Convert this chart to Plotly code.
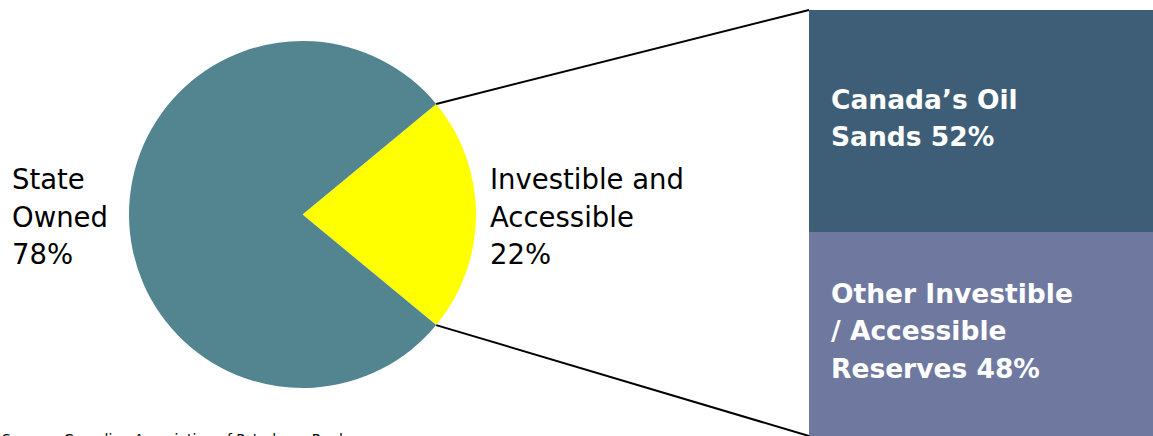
import math
import plotly.graph_objects as go

# ---------------- data ----------------
pie_names = ["Investible and Accessible", "State Owned"]
pie_values = [22, 78]
pie_label_lines = [["Investible and", "Accessible"], ["State", "Owned"]]

bar_names = ["Other Investible / Accessible Reserves", "Canada’s Oil Sands"]
bar_values = [48, 52]
bar_label_lines = [["Other Investible", "/ Accessible", "Reserves"], ["Canada’s Oil", "Sands"]]

source_text = "Source:\u00a0\u00a0Canadian Association of Petroleum Producers"

# ---------------- style ----------------
W, H = 1153, 436
pie_colors = ["#FFFF00", "#52858F"]
bar_colors = ["#6F79A0", "#3E5E78"]

cx, cy, r = 302.5, 214.5, 173.5          # pie centre / radius in px
bar_left, bar_top = 809, 10               # bar geometry in px

def px(x):
    return x / W

def py(y):
    return 1 - y / H

fig = go.Figure()

total = sum(pie_values)
half_angle = pie_values[0] / total * 180.0
fig.add_trace(go.Pie(
    values=pie_values, labels=pie_names,
    marker=dict(colors=pie_colors, line=dict(width=0)),
    sort=False, direction="clockwise", rotation=90 - half_angle,
    textinfo="none", hoverinfo="label+percent", showlegend=False,
    domain=dict(x=[px(cx - r), px(cx + r)], y=[py(cy + r), py(cy - r)]),
))

for i, (name, v) in enumerate(zip(bar_names, bar_values)):
    fig.add_trace(go.Bar(
        x=[0], y=[v], name=name, width=1,
        marker=dict(color=bar_colors[i], line=dict(width=0)),
        xaxis="x2", yaxis="y2", showlegend=False, hoverinfo="name+y",
    ))

fig.update_layout(
    width=W, height=H, margin=dict(l=0, r=0, t=0, b=0),
    paper_bgcolor="white", plot_bgcolor="rgba(0,0,0,0)",
    barmode="stack",
    xaxis2=dict(domain=[px(bar_left), 1], range=[-0.5, 0.5], visible=False, fixedrange=True),
    yaxis2=dict(domain=[0, py(bar_top)], range=[0, sum(bar_values)], visible=False,
                anchor="x2", fixedrange=True),
)

# connector lines from slice edges to bar corners
a = math.radians(half_angle)
p_top = (cx + r * math.cos(a), cy - r * math.sin(a))
p_bot = (cx + r * math.cos(a), cy + r * math.sin(a))
for (x0, y0), (x1, y1) in [(p_top, (bar_left, bar_top)), (p_bot, (bar_left, H))]:
    fig.add_shape(type="line", xref="paper", yref="paper",
                  x0=px(x0), y0=py(y0), x1=px(x1), y1=py(y1),
                  line=dict(color="black", width=2))

reg = dict(family="DejaVu Sans", size=27.5, color="black")
bold = dict(family="DejaVu Sans", size=26.5, color="white", weight="bold")

def add_lines(lines, x, baseline0, step, font):
    for k, t in enumerate(lines):
        b = baseline0 + k * step
        fig.add_annotation(text=t, x=px(x), y=py(b - 0.36 * font["size"]),
                           xref="paper", yref="paper", xanchor="left", yanchor="middle",
                           showarrow=False, font=font)

# pie labels
add_lines(pie_label_lines[1] + [f"{pie_values[1]}%"], 10, 189, 37.5, reg)
add_lines(pie_label_lines[0] + [f"{pie_values[0]}%"], 488, 189, 37.5, reg)

# bar labels
top_lines = bar_label_lines[1][:-1] + [f"{bar_label_lines[1][-1]} {bar_values[1]}%"]
bot_lines = bar_label_lines[0][:-1] + [f"{bar_label_lines[0][-1]} {bar_values[0]}%"]
add_lines(top_lines, 829, 109, 37.5, bold)
add_lines(bot_lines, 829, 303, 37.5, bold)

fig.add_annotation(text=source_text, x=0, y=py(429), xref="paper", yref="paper",
                   xanchor="left", yanchor="top", showarrow=False,
                   font=dict(family="DejaVu Sans", size=14, color="black"))

post = ("document.documentElement.style.margin='0';"
        "document.body.style.margin='0';"
        "document.documentElement.style.overflow='hidden';"
        "document.body.style.overflow='hidden';")

fig.write_html("out.html", post_script=post, config={"displayModeBar": False})
